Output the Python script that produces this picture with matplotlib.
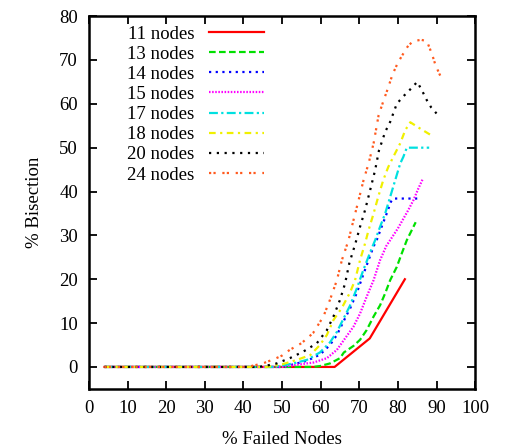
import matplotlib
matplotlib.use("Agg")
import matplotlib.pyplot as plt

plt.rcParams['font.family'] = ['Liberation Serif', 'DejaVu Serif']
plt.rcParams['font.size'] = 13.5

# % failed nodes / % bisection, one pair of lists per network size
x11 = [4, 10, 20, 30, 40, 50, 63.6, 72.7, 81.8]
y11 = [0, 0, 0, 0, 0, 0, 0, 6.5, 20]

x13 = [4, 20, 40, 58, 59.8, 62.4, 65, 66, 68.5, 70.2, 71.9, 73.7, 75.4, 76.7, 78, 79.7, 81, 82.3, 84.6]
y13 = [0, 0, 0, 0, 0.2, 0.8, 2, 3.3, 4.8, 6.2, 8.4, 11.5, 14.1, 16.8, 19.8, 22.8, 25.9, 28.9, 33]

x14 = [4, 20, 40, 50, 53, 56.4, 59.8, 62.4, 64.2, 66.7, 67.6, 69.4, 71, 73.7, 74.5, 75.8, 77.1, 78.2, 78.8, 85.6]
y14 = [0, 0, 0, 0, 0.6, 1.4, 2.8, 5, 7.3, 11.8, 13.3, 17, 21, 27.5, 28.9, 32, 35, 37.7, 38.4, 38.4]

x15 = [4, 20, 40, 50, 53.8, 58.1, 61.6, 64.2, 66.3, 68.5, 70.2, 71.9, 73.7, 75.4, 77, 78.5, 80, 82.7, 84, 85.3, 86.4]
y15 = [0, 0, 0, 0, 0.5, 1, 2, 3.9, 6.5, 9.2, 12.2, 16, 19.8, 24.4, 27.6, 29.6, 31.6, 35.8, 38, 40.7, 42.8]

x17 = [4, 20, 40, 48, 52.9, 56.4, 59.8, 62.4, 64.2, 66.7, 67.6, 69.4, 71, 73.2, 74.1, 75.4, 76.7, 78, 79.3, 80.6, 81.4, 82.3, 88.1]
y17 = [0, 0, 0, 0, 0.8, 1.6, 3.3, 5.6, 8, 12.4, 14, 18, 22, 27, 28.9, 32, 35, 38.8, 42.6, 46.4, 47.9, 50, 50]

x18 = [4, 20, 40, 46, 50, 53.8, 57.3, 59.8, 61.6, 63.3, 65.5, 67.6, 68.9, 70.2, 71.5, 72.4, 73.7, 74.9, 76.2, 77.5, 78.8, 80.6, 81.9, 83.2, 85.5, 88.3]
y18 = [0, 0, 0, 0, 0.6, 1.6, 2.7, 5, 7.3, 10.7, 13.5, 17, 19.8, 24.4, 28.2, 31.2, 35, 38.8, 42.6, 45.6, 47.9, 51, 54, 55.8, 54.5, 53]

x20 = [4, 20, 40, 44, 46, 48.6, 52, 55.5, 59, 61.6, 63.3, 65, 66.3, 67.4, 69, 70.2, 71.5, 72.8, 74.1, 75.1, 76.7, 78, 79.7, 81.4, 83.2, 85, 86.2, 87.5, 88.6, 90]
y20 = [0, 0, 0, 0, 0.3, 0.8, 2, 3.5, 5.4, 8.4, 11.5, 15.3, 19, 23.6, 28.2, 32, 35.8, 40.3, 44.9, 49.4, 53.6, 55.9, 60, 61.7, 63.3, 65, 63.1, 60.8, 59.2, 57.8]

x24 = [4, 20, 40, 42, 45, 48, 50, 52, 55, 58, 60.7, 62.4, 64.2, 65.5, 67.2, 68.5, 69.8, 71.1, 72.4, 73.7, 75, 76.3, 77.4, 78.6, 80, 81.9, 82.7, 84, 86, 87.5, 88.8, 89.6, 90.5, 91.5]
y24 = [0, 0, 0, 0.2, 0.8, 1.8, 2.6, 3.9, 5.4, 7.7, 11.5, 15.3, 19.8, 24.4, 28.9, 33.5, 38, 42.6, 46.4, 51, 57.4, 60.8, 63.5, 66.7, 69.4, 72.2, 73.3, 74.3, 74.6, 74.3, 71.4, 69.2, 67.3, 65.4]

series = [
    (x11, y11, '11 nodes', '#ff0000', '-'),
    (x13, y13, '13 nodes', '#00e000', (0, (3, 1.5))),
    (x14, y14, '14 nodes', '#0000ff', (0, (1, 2))),
    (x15, y15, '15 nodes', '#ff00ff', (0, (0.7, 0.7))),
    (x17, y17, '17 nodes', '#00e0e0', (0, (4, 1.5, 1, 1.5))),
    (x18, y18, '18 nodes', '#f0f000', (0, (3, 2, 1, 2))),
    (x20, y20, '20 nodes', '#000000', (0, (1, 2.5))),
    (x24, y24, '24 nodes', '#ff5a1e', (0, (1, 1, 1, 3))),
]

fig = plt.figure(figsize=(5.06, 4.48), dpi=100)
ax = fig.add_axes([0.176, 0.132, 0.763, 0.832])

for xs, ys, lab, col, ls in series:
    ax.plot(xs, ys, color=col, linestyle=ls, linewidth=1.6, label=lab)

ax.set_xlim(0, 100)
ax.set_ylim(-5, 80)
ax.set_xticks(range(0, 101, 10))
ax.set_yticks(range(0, 81, 10))
ax.tick_params(direction='in', length=6, width=1.3, top=True, right=True, pad=8)
for sp in ax.spines.values():
    sp.set_linewidth(1.8)

ax.set_xlabel('% Failed Nodes', labelpad=10)
ax.set_ylabel('% Bisection', labelpad=12)

ax.legend(loc='upper left', bbox_to_anchor=(0.06, 1.015), frameon=False,
          markerfirst=False, handlelength=2.9, labelspacing=0.16,
          handletextpad=0.8, borderpad=0.3)

fig.savefig('out.png', dpi=100)
